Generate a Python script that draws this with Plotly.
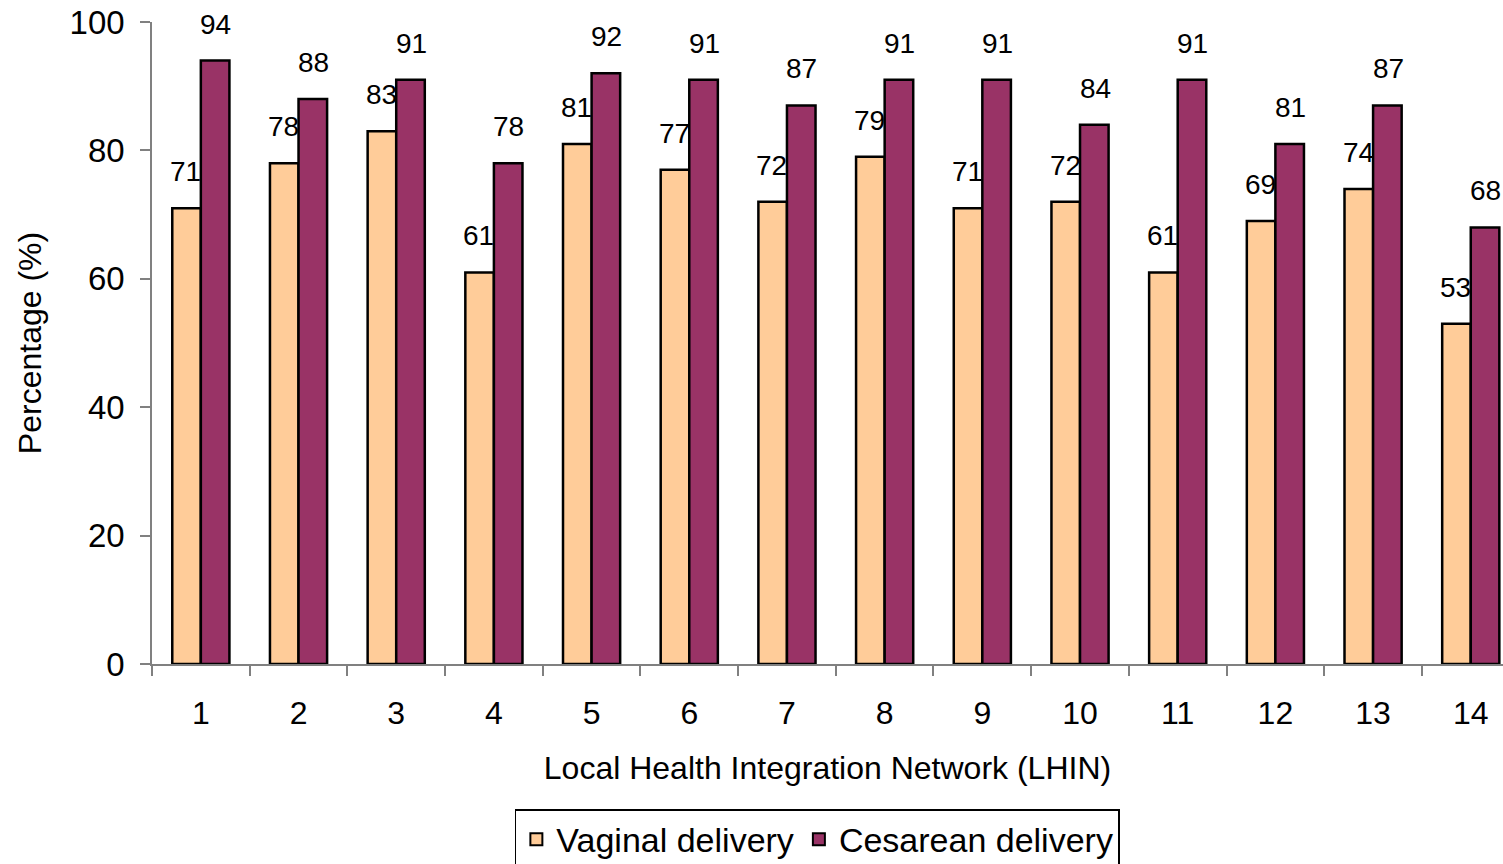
''' Bar chart: percentage by LHIN, vaginal vs cesarean delivery '''
import plotly.graph_objects as go

lhin = [str(i) for i in range(1, 15)]
vaginal = [71, 78, 83, 61, 81, 77, 72, 79, 71, 72, 61, 69, 74, 53]
cesarean = [94, 88, 91, 78, 92, 91, 87, 91, 91, 84, 91, 81, 87, 68]

FONT = 'Liberation Sans, Arial, sans-serif'
AXIS_GREY = '#808080'

fig = go.Figure()
fig.add_trace(go.Bar(
    x=lhin, y=vaginal, name='Vaginal delivery',
    marker=dict(color='#FFCC99', line=dict(color='black', width=2.5))))
fig.add_trace(go.Bar(
    x=lhin, y=cesarean, name='Cesarean delivery',
    marker=dict(color='#993366', line=dict(color='black', width=2.5))))

# value labels sitting above each bar (x given as category index)
for series, shift in ((vaginal, -15), (cesarean, 15)):
    for idx, val in enumerate(series):
        fig.add_annotation(
            x=idx, y=val, text=str(val), showarrow=False,
            xshift=shift, yshift=19, yanchor='bottom',
            font=dict(family=FONT, size=28, color='black'))

fig.update_layout(
    width=1503, height=864,
    margin=dict(l=152, r=0, t=22, b=200, autoexpand=False),
    plot_bgcolor='white', paper_bgcolor='white',
    font=dict(family=FONT, color='black'),
    barmode='group', bargap=0.415, bargroupgap=0,
    showlegend=True,
    legend=dict(
        orientation='h', x=0.4925, xanchor='center', y=-0.226, yanchor='top',
        bordercolor='black', borderwidth=1.5,
        font=dict(family=FONT, size=34), itemsizing='constant'),
)
fig.update_xaxes(
    type='category', range=[-0.5, 13.33],
    showline=True, linecolor=AXIS_GREY, linewidth=1.5,
    ticks='outside', tickson='boundaries', ticklen=10,
    tickcolor=AXIS_GREY, tickwidth=1.5,
    tickfont=dict(size=32), ticklabelstandoff=20,
    title=dict(text='Local Health Integration Network (LHIN)',
               font=dict(size=32), standoff=26),
    showgrid=False)
fig.update_yaxes(
    range=[0, 100], dtick=20,
    showline=True, linecolor=AXIS_GREY, linewidth=1.5,
    ticks='outside', ticklen=10, tickcolor=AXIS_GREY, tickwidth=1.5,
    tickfont=dict(size=33), ticklabelstandoff=9, ticklabeloverflow='allow',
    title=dict(text='Percentage (%)', font=dict(size=32), standoff=18),
    showgrid=False, zeroline=False)

# drop the browser's default body margin so the figure fills the window
fig.write_html('out.html', config={'displayModeBar': False},
               post_script="document.body.style.margin='0';")
